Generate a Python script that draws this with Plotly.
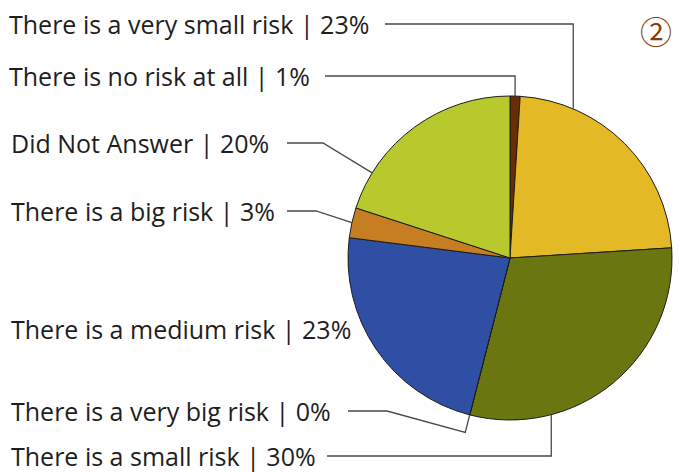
import math
import plotly.graph_objects as go

# Survey answers, in clockwise order from 12 o'clock
labels = [
    "There is no risk at all",
    "There is a very small risk",
    "There is a small risk",
    "There is a very big risk",
    "There is a medium risk",
    "There is a big risk",
    "Did Not Answer",
]
values = [1, 23, 30, 0, 23, 3, 20]
colors = ["#6b2c00", "#e3b926", "#6a760f", "#b0b0b0", "#2e4fa3", "#c77d22", "#b8c92d"]

W, H = 680, 472
CX, CY, R = 510, 258, 162  # pie centre and radius in pixels

def px(x):
    return x / W

def py(y):
    return 1 - y / H

total = sum(values)
starts, spans = [], []
acc = 0
for v in values:
    starts.append(acc / total * 360)
    spans.append(v / total * 360)
    acc += v

def arc_point(i, frac, r=R):
    th = math.radians(starts[i] + spans[i] * frac)
    return CX + r * math.sin(th), CY - r * math.cos(th)

fig = go.Figure(go.Pie(
    labels=labels,
    values=values,
    sort=False,
    direction="clockwise",
    rotation=0,
    textinfo="none",
    hoverinfo="skip",
    marker=dict(colors=colors, line=dict(color="#1c1c1c", width=1)),
    domain=dict(x=[px(CX - R), px(CX + R)], y=[py(CY + R), py(CY - R)]),
    showlegend=False,
))

# Label layout: (text x, text y, line start x, leader style, position in slice, extra)
label_layout = {
    0: (8, 76, 325, "elbow", 0.5, None),
    1: (8, 24, 385, "elbow", 0.234, None),
    2: (10, 456, 327, "elbow", 0.73, None),
    3: (10, 411, 348, "radial", 0.5, 39),
    4: (10, 329, None, None, 0.5, None),
    5: (10, 211, 287, "kink", 0.5, 29),
    6: (10, 143, 287, "kink", 0.19, 36),
}

line_style = dict(color="#4a4a4a", width=1.3)
annotations = []
shapes = []
for i, (tx, ty, lx, style, frac, extra) in label_layout.items():
    annotations.append(dict(
        x=px(tx), y=py(ty), xref="paper", yref="paper",
        xanchor="left", yanchor="middle", showarrow=False,
        text=f"{labels[i]} | {values[i]}%",
        font=dict(family="Open Sans, sans-serif", size=25, color="#1e1e1e"),
        borderpad=0,
    ))
    if style is None:
        continue
    P = arc_point(i, frac)
    if style == "elbow":
        pts = [(lx, ty), (P[0], ty), P]
    elif style == "kink":
        pts = [(lx, ty), (lx + extra, ty), P]
    else:
        Q = arc_point(i, frac, R + 18)
        pts = [(lx, ty), (lx + extra, ty), Q, P]
    path = "M " + " L ".join(f"{px(x):.5f},{py(y):.5f}" for x, y in pts)
    shapes.append(dict(type="path", xref="paper", yref="paper", path=path, line=line_style))

annotations.append(dict(
    x=px(656), y=py(30), xref="paper", yref="paper",
    xanchor="center", yanchor="middle", showarrow=False, text="②",
    font=dict(family="Noto Sans CJK JP, sans-serif", size=32, color="#8a3d08"),
))

fig.update_layout(
    width=W, height=H,
    margin=dict(l=0, r=0, t=0, b=0),
    paper_bgcolor="white", plot_bgcolor="white",
    annotations=annotations, shapes=shapes,
)
fig.write_html("out.html")
